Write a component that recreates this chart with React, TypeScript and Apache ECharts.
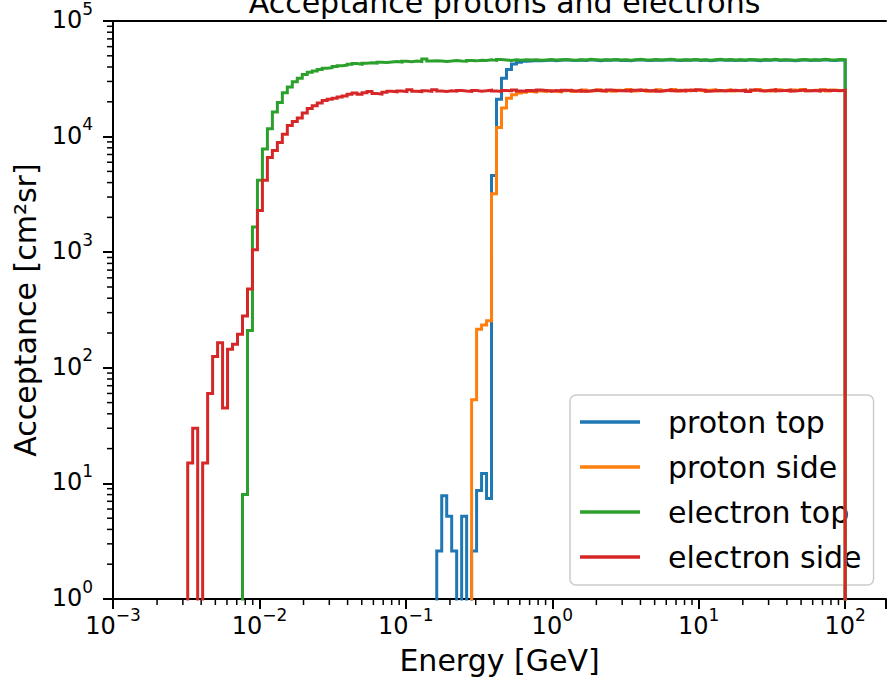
import React, { useEffect, useRef } from 'react';
import * as echarts from 'echarts';

// ---- binning (log-spaced histogram bins, 147 bins from 1e-3 to 1e2 GeV) ----
const LOG_E_MIN = -3;
const LOG_E_MAX = 2;
const N_BINS = 147;

// ---- series values (acceptance per bin, cm^2 sr); 0 = empty bin ----
const protonTopStart = 65;
const protonTop = [
  2.6, 7.8, 5.2, 2.6, 0, 5.2, 0, 2.6, 8.7, 12.2, 7.4,
  4600, 21000, 32000, 38000, 42500, 44000, 44800, 45000, 45500, 45200,
  45600, 45900, 45400, 45800, 46100, 45700, 45500, 45900, 45600, 46200,
  45800, 45400, 45900, 45700, 46100, 45600, 45800, 45300, 45900, 46200,
  45700, 45500, 46000, 45700, 45900, 46300, 45800, 45500, 45900, 45700,
  46100, 45600, 45900, 45400, 45800, 46200, 45700, 46000, 45500, 45900,
  45600, 46100, 45800, 45400, 45900, 45700, 46200, 45600, 45900, 45700,
  45300, 45800, 46100, 45600, 45900, 45700, 46200, 45800, 45600, 46000,
  45900,
];

const protonSideStart = 72;
const protonSide = [
  53, 215, 235, 255, 3200, 12000, 17700, 21500, 23000, 23800,
  24200, 24600, 24300, 24800, 24500, 25100, 24700, 24400, 24900, 25200,
  24600, 24900, 25300, 24700, 25000, 25400, 24800, 25100, 24700, 25200,
  24900, 25500, 24800, 25000, 25300, 24700, 25000, 25400, 24900, 25100,
  25500, 24800, 25200, 24900, 25300, 25000, 24700, 25200, 25500, 24900,
  25100, 25400, 24800, 25000, 25300, 24800, 25100, 25500, 24900, 25200,
  24800, 25400, 25100, 24800, 25300, 25000, 25500, 24900, 25200, 25000,
  25400, 24800, 25300, 25100, 25000,
];

const electronTopStart = 26;
const electronTop = [
  8, 210, 1650, 4200, 7800, 11700, 16300, 19700, 24000,
  26900, 29800, 32000, 34500, 36000, 37000, 38000, 39000, 39500, 40400,
  41000, 41500, 42200, 42800, 42300, 43200, 43600, 43300, 44000, 43700,
  44200, 44600, 44100, 44800, 44500, 45000, 44600, 46800, 45000, 45400,
  45100, 44700, 45000, 45500, 45100, 44900, 45600, 45200, 45800, 45500,
  46100, 45600, 46400, 46000, 45600, 46100, 45800, 46300, 45900, 46200,
  45700, 46000, 46400, 45900, 46200, 46500, 46100, 45800, 46300, 46000,
  46600, 46200, 45900, 46300, 46100, 46500, 46000, 46300, 45800, 46200,
  46600, 46100, 45900, 46400, 46000, 46300, 46700, 46200, 45900, 46300,
  46100, 46500, 46000, 46300, 45800, 46200, 46600, 46100, 46400, 45900,
  46300, 46000, 46500, 46200, 45900, 46400, 46100, 46600, 46000, 46300,
  46100, 45800, 46200, 46500, 46000, 46300, 46100, 46600, 46200, 46000,
  46400, 46300,
];

const electronSideStart = 15;
const electronSide = [
  15, 30, 0, 15, 60, 125, 165, 45, 145, 160,
  195, 280, 480, 1050, 2300, 4200, 6600, 7600, 8900, 10500,
  12500, 13500, 14500, 16000, 17500, 18500, 19500, 20500, 21000, 21500,
  22000, 22500, 23200, 23800, 23300, 24000, 24500, 23600, 23300, 24200,
  24700, 24400, 24800, 24500, 25400, 24700, 24500, 24900, 24600, 25400,
  24800, 24600, 24900, 24700, 25100, 24800, 24600, 25000, 24700, 24900,
  25200, 24800, 24600, 25000, 24900, 25300, 24800, 24700, 25100, 24900,
  25300, 25000, 24700, 25000, 24800, 25200, 25000, 24800, 25100, 24700,
  24900, 25200, 25000, 24800, 25300, 25000, 24900, 25100, 24800, 25200,
  25400, 25000, 24900, 25100, 24700, 25000, 25300, 24900, 25000, 24800,
  25200, 25000, 25400, 25100, 24700, 24900, 25100, 24800, 25000, 25200,
  24900, 25100, 24600, 25300, 25000, 24800, 25100, 25400, 24900, 25000,
  25200, 24800, 25100, 25300, 24900, 25000, 24800, 25200, 25000, 25100,
  24900, 25200,
];

const seriesNames = ['proton top', 'proton side', 'electron top', 'electron side'];
const seriesColors = ['#1f77b4', '#ff7f0e', '#2ca02c', '#d62728'];

// minor tick multipliers
const minorMultipliers = [2, 3, 4, 5, 6, 7, 8, 9];
const xDecades = [-3, -2, -1, 0, 1, 2];
const yDecades = [0, 1, 2, 3, 4];

const FONT = 'DejaVu Sans';
const FLOOR = 1e-2; // stands for an empty bin (below the log axis)

function binEdge(i: number) {
  return Math.pow(10, LOG_E_MIN + (i * (LOG_E_MAX - LOG_E_MIN)) / N_BINS);
}

function stepOutline(start: number, vals: number[]) {
  const pts: number[][] = [[binEdge(start), FLOOR]];
  vals.forEach((v, k) => {
    const y = v > 0 ? v : FLOOR;
    pts.push([binEdge(start + k), y]);
    pts.push([binEdge(start + k + 1), y]);
  });
  pts.push([binEdge(start + vals.length), FLOOR]);
  return pts;
}

const GRID_LEFT = 113;
const GRID_TOP = 20;
const GRID_W = 776;
const GRID_H = 581;
const X_MAX = Math.pow(10, -3 + GRID_W / 147);

function powLabel(v: number) {
  const l = Math.log10(v);
  const e = Math.round(l);
  if (Math.abs(l - e) > 1e-6) return '';
  const s = e < 0 ? '\u2212' + -e : String(e);
  return '{b|10}{s|' + s + '}';
}

const labelRich = {
  b: { fontSize: 24, fontFamily: FONT, color: '#000', lineHeight: 32, verticalAlign: 'bottom' },
  s: { fontSize: 17, fontFamily: FONT, color: '#000', lineHeight: 18, verticalAlign: 'top' },
};

export default function App() {
  const ref = useRef<HTMLDivElement>(null);
  useEffect(() => {
    if (!ref.current) return;
    const chart = echarts.init(ref.current, undefined, { renderer: 'svg' });

    const data = [
      stepOutline(protonTopStart, protonTop),
      stepOutline(protonSideStart, protonSide),
      stepOutline(electronTopStart, electronTop),
      stepOutline(electronSideStart, electronSide),
    ];

    const xMinor: number[][] = [];
    xDecades.forEach((d) =>
      minorMultipliers.forEach((m) => {
        const v = m * Math.pow(10, d);
        if (v < X_MAX) xMinor.push([v, 1]);
      })
    );
    const yMinor: number[][] = [];
    yDecades.forEach((d) =>
      minorMultipliers.forEach((m) => yMinor.push([1e-3, m * Math.pow(10, d)]))
    );

    const lineSeries = seriesNames.map((name, i) => ({
      name,
      type: 'line',
      data: data[i],
      showSymbol: false,
      symbol: 'none',
      clip: true,
      z: 3 + i,
      lineStyle: { color: seriesColors[i], width: 3, join: 'miter' },
      itemStyle: { color: seriesColors[i] },
    }));

    const option: any = {
      animation: false,
      backgroundColor: '#fff',
      title: {
        text: 'Acceptance protons and electrons',
        left: 499.5,
        top: -18,
        textAlign: 'center',
        textStyle: { fontFamily: FONT, fontSize: 30, fontWeight: 'normal', color: '#000' },
      },
      grid: {
        left: GRID_LEFT,
        top: GRID_TOP,
        width: GRID_W,
        height: GRID_H,
        show: false,
      },
      legend: {
        orient: 'vertical',
        left: 570,
        top: 395,
        padding: [12, 12, 13, 10],
        itemGap: 15,
        itemWidth: 60,
        itemHeight: 3.5,
        backgroundColor: 'rgba(255,255,255,0.8)',
        borderColor: '#cccccc',
        borderWidth: 1.5,
        borderRadius: 6,
        data: seriesNames.map((n) => ({ name: n, icon: 'rect' })),
        textStyle: { fontFamily: FONT, fontSize: 30, color: '#000', padding: [0, 0, 0, 23] },
      },
      xAxis: [
        {
          type: 'log',
          logBase: 10,
          min: 1e-3,
          max: X_MAX,
          name: 'Energy [GeV]',
          nameLocation: 'middle',
          nameGap: 46,
          nameTextStyle: { fontFamily: FONT, fontSize: 30, color: '#000' },
          axisLine: { lineStyle: { color: '#000', width: 2 } },
          axisTick: { show: true, inside: false, length: 10, lineStyle: { color: '#000', width: 2 } },
          axisLabel: { formatter: powLabel, rich: labelRich, margin: 7, color: '#000' },
          splitLine: { show: false },
          minorTick: { show: false },
        },
        {
          type: 'log',
          logBase: 10,
          position: 'top',
          min: 1e-3,
          max: X_MAX,
          axisLine: { show: true, lineStyle: { color: '#000', width: 2 } },
          axisTick: { show: false },
          axisLabel: { show: false },
          splitLine: { show: false },
        },
      ],
      yAxis: {
        type: 'log',
        logBase: 10,
        min: 1,
        max: 1e5,
        name: 'Acceptance [cm\u00b2sr]',
        nameLocation: 'middle',
        nameGap: 68,
        nameTextStyle: { fontFamily: FONT, fontSize: 30, color: '#000' },
        axisLine: { lineStyle: { color: '#000', width: 2 } },
        axisTick: { show: true, inside: false, length: 10, lineStyle: { color: '#000', width: 2 } },
        axisLabel: {
          formatter: powLabel,
          rich: labelRich,
          margin: 20,
          padding: [0, 0, 10, 0],
          color: '#000',
        },
        splitLine: { show: false },
      },
      series: [
        ...lineSeries,
        {
          name: 'xminor',
          type: 'custom',
          clip: false,
          silent: true,
          data: xMinor,
          renderItem: (_p: any, api: any) => {
            const c = api.coord([api.value(0), api.value(1)]);
            return {
              type: 'line',
              shape: { x1: c[0], y1: c[1], x2: c[0], y2: c[1] + 6 },
              style: { stroke: '#000', lineWidth: 1.5 },
            };
          },
        },
        {
          name: 'yminor',
          type: 'custom',
          clip: false,
          silent: true,
          data: yMinor,
          renderItem: (_p: any, api: any) => {
            const c = api.coord([api.value(0), api.value(1)]);
            return {
              type: 'line',
              shape: { x1: c[0], y1: c[1], x2: c[0] - 6, y2: c[1] },
              style: { stroke: '#000', lineWidth: 1.5 },
            };
          },
        },
      ],
    };
    chart.setOption(option);
    return () => chart.dispose();
  }, []);
  return (
    <div
      ref={ref}
      style={{ position: 'fixed', left: 0, top: 0, width: 889, height: 680, background: '#fff' }}
    />
  );
}
